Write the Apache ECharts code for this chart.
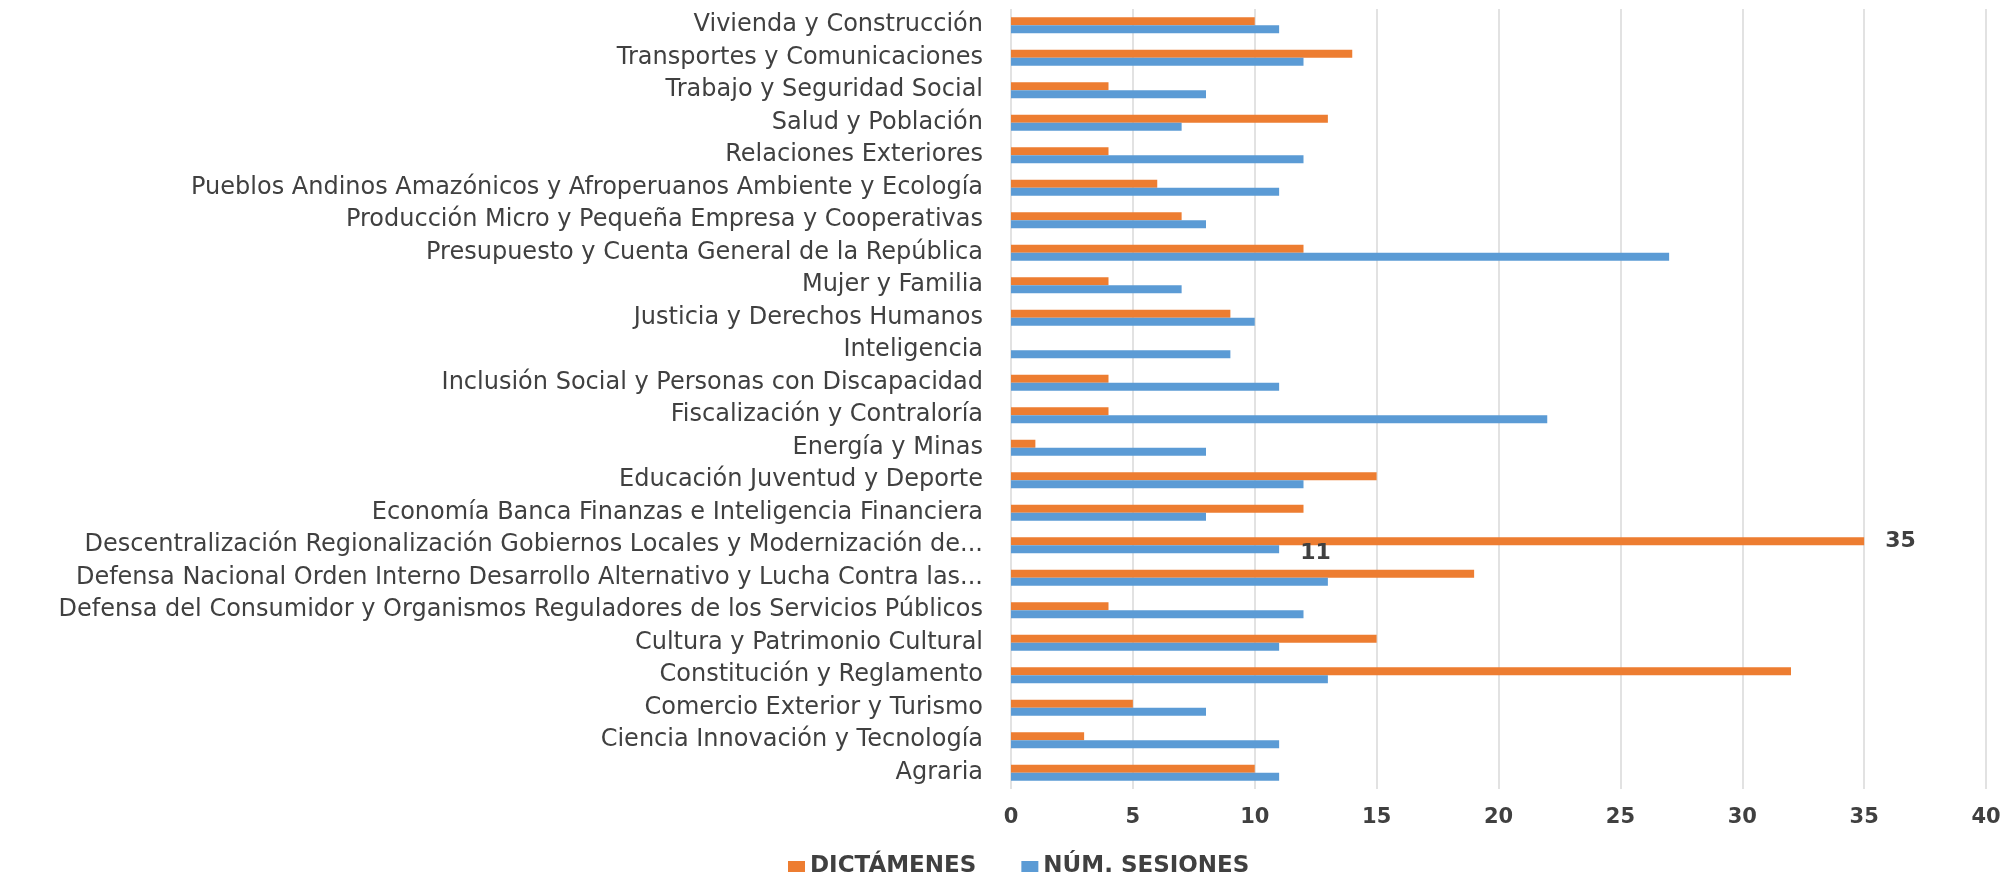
<!DOCTYPE html>
<html>
<head>
<meta charset="utf-8">
<script src="https://cdn.jsdelivr.net/npm/echarts@6/dist/echarts.min.js"></script>
<style>html,body{margin:0;padding:0;background:#fff}#chart{width:2007px;height:875px}</style>
</head>
<body>
<div id="chart"></div>
<script>
// Categories listed bottom -> top (ECharts category y-axis runs upward)
var categories = [
  'Agraria',
  'Ciencia Innovación y Tecnología',
  'Comercio Exterior y Turismo',
  'Constitución y Reglamento',
  'Cultura y Patrimonio Cultural',
  'Defensa del Consumidor y Organismos Reguladores de los Servicios Públicos',
  'Defensa Nacional Orden Interno Desarrollo Alternativo y Lucha Contra las...',
  'Descentralización Regionalización Gobiernos Locales y Modernización de...',
  'Economía Banca Finanzas e Inteligencia Financiera',
  'Educación Juventud y Deporte',
  'Energía y Minas',
  'Fiscalización y Contraloría',
  'Inclusión Social y Personas con Discapacidad',
  'Inteligencia',
  'Justicia y Derechos Humanos',
  'Mujer y Familia',
  'Presupuesto y Cuenta General de la República',
  'Producción Micro y Pequeña Empresa y Cooperativas',
  'Pueblos Andinos Amazónicos y Afroperuanos Ambiente y Ecología',
  'Relaciones Exteriores',
  'Salud y Población',
  'Trabajo y Seguridad Social',
  'Transportes y Comunicaciones',
  'Vivienda y Construcción'
];
var dictamenes = [10, 3, 5, 32, 15, 4, 19, 35, 12, 15, 1, 4, 4, 0, 9, 4, 12, 7, 6, 4, 13, 4, 14, 10];
var sesiones   = [11, 11, 8, 13, 11, 12, 13, 11, 8, 12, 8, 22, 11, 9, 10, 7, 27, 8, 11, 12, 7, 8, 12, 11];
var seriesNames = ['DICTÁMENES', 'NÚM. SESIONES'];
var labeledCategory = 'Descentralización Regionalización Gobiernos Locales y Modernización de...';
var xTicks = { min: 0, max: 40, interval: 5 };

function withLabel(values, extra) {
  return values.map(function (v, i) {
    if (categories[i] === labeledCategory) {
      return { value: v, label: Object.assign({ show: true }, extra) };
    }
    return v;
  });
}

var chart = echarts.init(document.getElementById('chart'));
var labelStyle = { position: 'right', distance: 21, color: '#404040', fontSize: 22, fontWeight: 'bold', fontFamily: 'DejaVu Sans' };
chart.setOption({
  animation: false,
  backgroundColor: '#ffffff',
  grid: { left: 1011, right: 21, top: 9, bottom: 86, containLabel: false },
  legend: {
    data: seriesNames,
    left: 783, top: 850,
    itemWidth: 17, itemHeight: 11, itemGap: 45,
    icon: 'rect',
    textStyle: { color: '#404040', fontSize: 23, fontWeight: 'bold', fontFamily: 'DejaVu Sans' }
  },
  xAxis: {
    type: 'value', min: xTicks.min, max: xTicks.max, interval: xTicks.interval,
    axisLine: { show: false }, axisTick: { show: false },
    splitLine: { show: true, lineStyle: { color: '#d9d9d9', width: 1.5 } },
    axisLabel: { color: '#404040', fontSize: 21, fontWeight: 'bold', fontFamily: 'DejaVu Sans', margin: 18 }
  },
  yAxis: {
    type: 'category', data: categories,
    axisLine: { show: false }, axisTick: { show: false },
    axisLabel: { color: '#404040', fontSize: 24, fontFamily: 'DejaVu Sans', margin: 28, interval: 0 }
  },
  series: [
    {
      name: seriesNames[0], type: 'bar', data: withLabel(dictamenes, Object.assign({}, labelStyle)),
      itemStyle: { color: '#ED7D31' }, barWidth: 8, barGap: '0%', barCategoryGap: '50%'
    },
    {
      name: seriesNames[1], type: 'bar', data: withLabel(sesiones, Object.assign({ offset: [0, 4] }, labelStyle)),
      itemStyle: { color: '#5B9BD5' }, barWidth: 8, barGap: '0%', barCategoryGap: '50%'
    }
  ]
});
</script>
</body>
</html>
